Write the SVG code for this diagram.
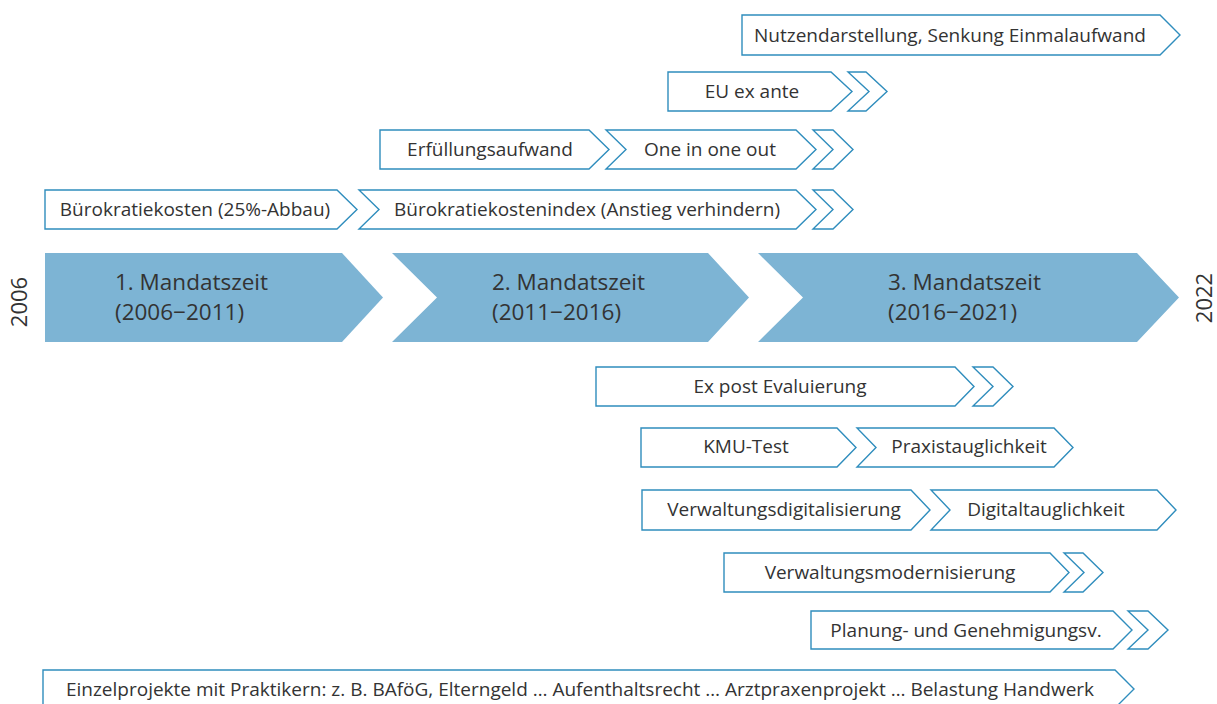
<svg xmlns="http://www.w3.org/2000/svg" width="1217" height="704" viewBox="0 0 1217 704">
<style>
.box{fill:#ffffff;stroke:#2f8dbd;stroke-width:1.4;stroke-linejoin:miter}
.band{fill:#7db4d4;stroke:none}
.lbl{font-family:"Open Sans","Liberation Sans",sans-serif;font-size:19px;fill:#333333;text-anchor:middle}
.main{font-family:"Open Sans","Liberation Sans",sans-serif;font-size:22.5px;fill:#333333}
.year{font-family:"Open Sans","Liberation Sans",sans-serif;font-size:22px;fill:#333333;text-anchor:middle}
</style>
<rect width="1217" height="704" fill="#ffffff"/>

<g id="years">
<text class="year" transform="translate(27,302) rotate(-90)">2006</text>
<text class="year" transform="translate(1212,298) rotate(-90)">2022</text>
</g>

<g id="mandat1">
<path class="band" d="M45,253 H342 L383,297.5 L342,342 H45 Z"/>
<text class="main" x="115" y="290">1. Mandatszeit</text>
<text class="main" x="115" y="320">(2006−2011)</text>
</g>
<g id="mandat2">
<path class="band" d="M392,253 H708 L749,297.5 L708,342 H392 L437,297.5 Z"/>
<text class="main" x="492" y="290">2. Mandatszeit</text>
<text class="main" x="492" y="320">(2011−2016)</text>
</g>
<g id="mandat3">
<path class="band" d="M758,253 H1137 L1179,297.5 L1137,342 H758 L803,297.5 Z"/>
<text class="main" x="888" y="290">3. Mandatszeit</text>
<text class="main" x="888" y="320">(2016−2021)</text>
</g>

<g id="nutzen">
<path class="box" d="M742,15 H1160 L1180,35 L1160,55 H742 Z"/>
<text class="lbl" x="950" y="42">Nutzendarstellung, Senkung Einmalaufwand</text>
</g>

<g id="euexante">
<path class="box" d="M668,72 H831 L852,91.5 L831,111 H668 Z"/>
<path class="box" d="M848,72 H866 L887,91.5 L866,111 H848 L869,91.5 Z"/>
<text class="lbl" x="752" y="98">EU ex ante</text>
</g>

<g id="erfuellung">
<path class="box" d="M380,130 H589 L609,149.5 L589,169 H380 Z"/>
<text class="lbl" x="490" y="156">Erfüllungsaufwand</text>
</g>
<g id="oneinoneout">
<path class="box" d="M606,130 H796 L816,149.5 L796,169 H606 L626,149.5 Z"/>
<path class="box" d="M813,130 H833 L853,149.5 L833,169 H813 L833,149.5 Z"/>
<text class="lbl" x="710" y="156">One in one out</text>
</g>

<g id="buerokosten">
<path class="box" d="M45,190 H337 L357,209.5 L337,229 H45 Z"/>
<text class="lbl" x="195" y="216">Bürokratiekosten (25%-Abbau)</text>
</g>
<g id="buerokostenindex">
<path class="box" d="M359,190 H796 L816,209.5 L796,229 H359 L379,209.5 Z"/>
<path class="box" d="M813,190 H833 L853,209.5 L833,229 H813 L833,209.5 Z"/>
<text class="lbl" x="587" y="216">Bürokratiekostenindex (Anstieg verhindern)</text>
</g>

<g id="expost">
<path class="box" d="M596,367 H955 L974,386.5 L955,406 H596 Z"/>
<path class="box" d="M973,367 H993 L1013,386.5 L993,406 H973 L993,386.5 Z"/>
<text class="lbl" x="780" y="393">Ex post Evaluierung</text>
</g>

<g id="kmutest">
<path class="box" d="M641,428 H837 L856,447.5 L837,467 H641 Z"/>
<text class="lbl" x="746" y="453">KMU-Test</text>
</g>
<g id="praxis">
<path class="box" d="M857,428 H1054 L1073,447.5 L1054,467 H857 L876,447.5 Z"/>
<text class="lbl" x="969" y="453">Praxistauglichkeit</text>
</g>

<g id="verwdigital">
<path class="box" d="M642,490 H911 L930,510 L911,530 H642 Z"/>
<text class="lbl" x="784" y="516">Verwaltungsdigitalisierung</text>
</g>
<g id="digitaltauglich">
<path class="box" d="M931,490 H1157 L1176,510 L1157,530 H931 L950,510 Z"/>
<text class="lbl" x="1046" y="516">Digitaltauglichkeit</text>
</g>

<g id="verwmodern">
<path class="box" d="M724,553 H1050 L1069,572.5 L1050,592 H724 Z"/>
<path class="box" d="M1064,553 H1083 L1103,572.5 L1083,592 H1064 L1084,572.5 Z"/>
<text class="lbl" x="890" y="579">Verwaltungsmodernisierung</text>
</g>

<g id="planung">
<path class="box" d="M811,611 H1113 L1132,630 L1113,649 H811 Z"/>
<path class="box" d="M1128,611 H1148 L1168,630 L1148,649 H1128 L1148,630 Z"/>
<text class="lbl" x="966" y="637">Planung- und Genehmigungsv.</text>
</g>

<g id="einzel">
<path class="box" d="M43,670 H1115 L1134,689 L1115,708 H43 Z"/>
<text class="lbl" x="580" y="696">Einzelprojekte mit Praktikern: z. B. BAföG, Elterngeld … Aufenthaltsrecht … Arztpraxenprojekt … Belastung Handwerk</text>
</g>

<g id="connectors"></g>
</svg>
